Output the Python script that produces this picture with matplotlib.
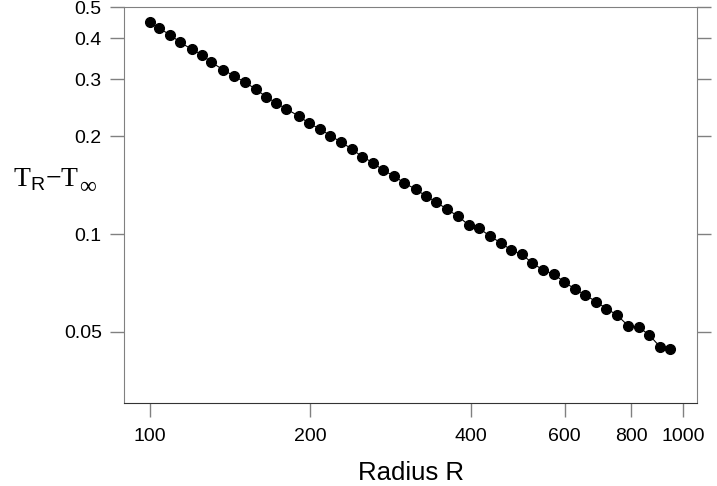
import numpy as np
import matplotlib
matplotlib.use("Agg")
import matplotlib.pyplot as plt

# data (log-log)
radius = [100, 104, 109, 114, 120, 125, 130, 137, 144, 151,
          158, 165, 172, 180, 190, 199, 208, 218, 228, 239,
          250, 262, 274, 287, 300, 315, 329, 344, 360, 378,
          396, 415, 434, 455, 476, 498, 521, 546, 572, 599,
          626, 656, 687, 718, 752, 789, 826, 864, 905, 947]
temp_diff = [0.448, 0.430, 0.411, 0.389, 0.370, 0.357, 0.339, 0.321, 0.306, 0.293,
             0.279, 0.265, 0.254, 0.243, 0.231, 0.219, 0.211, 0.201, 0.192, 0.183,
             0.173, 0.166, 0.157, 0.151, 0.1435, 0.1375, 0.131, 0.1257, 0.1194, 0.1136,
             0.1067, 0.1041, 0.0986, 0.0940, 0.0893, 0.0866, 0.0816, 0.0775, 0.0752, 0.0712,
             0.0678, 0.0649, 0.0619, 0.0590, 0.0563, 0.0522, 0.0517, 0.0489, 0.0450, 0.0443]

xticks = [100, 200, 400, 600, 800, 1000]
yticks = [0.05, 0.1, 0.2, 0.3, 0.4, 0.5]
ytick_labels = ["0.05", "0.1", "0.2", "0.3", "0.4", "0.5"]

plt.rcParams['font.family'] = ['Liberation Sans', 'DejaVu Sans']
plt.rcParams['mathtext.fontset'] = 'custom'
plt.rcParams['mathtext.rm'] = 'Liberation Serif'
plt.rcParams['mathtext.sf'] = 'Liberation Sans'

fig = plt.figure(figsize=(7.17, 4.86), dpi=100)
ax = fig.add_axes([124/717, 1 - 403/486, (697 - 124)/717, (403 - 7)/486])

ax.plot(radius, temp_diff, color='black', lw=0.8, marker='o', ms=7,
        markerfacecolor='black', markeredgecolor='black')
ax.set_xscale('log')
ax.set_yscale('log')
ax.set_xlim(89.4, 1062)
ax.set_ylim(0.0302, 0.4995)

ax.xaxis.set_minor_locator(matplotlib.ticker.NullLocator())
ax.yaxis.set_minor_locator(matplotlib.ticker.NullLocator())
ax.set_xticks(xticks)
ax.set_xticklabels([str(t) for t in xticks])
ax.set_yticks(yticks)
ax.set_yticklabels(ytick_labels)

ax.tick_params(axis='both', direction='out', length=10, width=1, color='#808080',
               labelsize=14, pad=8)
ax.tick_params(axis='y', right=True, labelright=False, pad=6)

for s in ['left', 'right', 'top']:
    ax.spines[s].set_color('#808080')
ax.spines['bottom'].set_color('#333333')

ax.set_xlabel('Radius R', fontsize=18.5, labelpad=11.5)

# y label: T_R - T_inf, drawn in two pieces so the infinity sign keeps its size
fig.text(13/717, 1 - 180/486, '$\\mathrm{T}_{\\mathsf{R}}\\mathrm{\u2212T}$',
         fontsize=20, ha='left', va='center')
fig.text(88/717, 1 - 187/486, '\u221e', family=['Liberation Serif', 'DejaVu Serif'],
         fontsize=17, ha='center', va='center')

fig.savefig('out.png', dpi=100)
